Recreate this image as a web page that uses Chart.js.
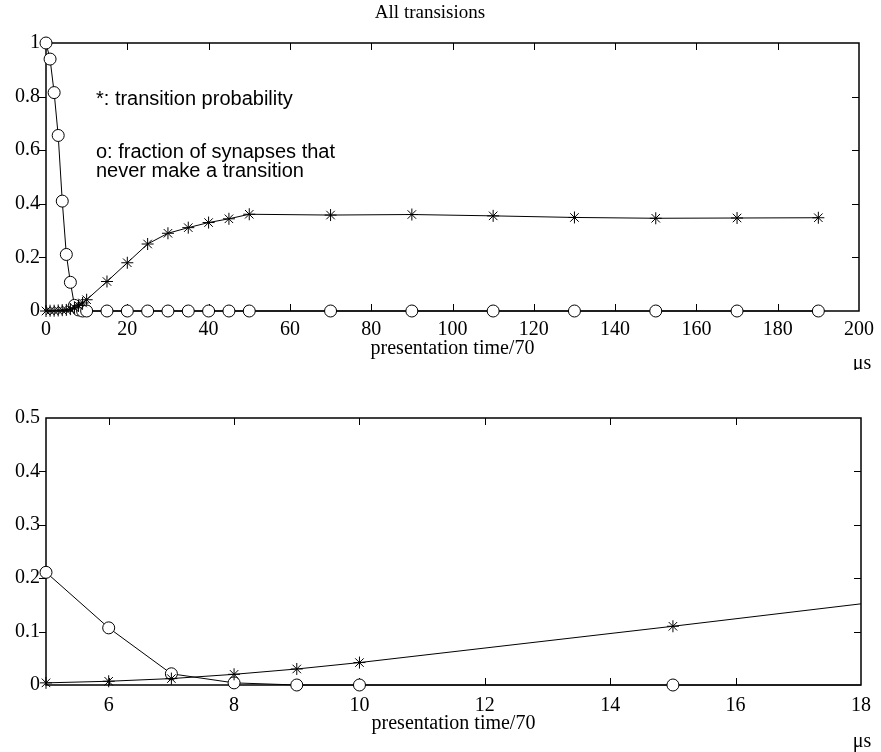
<!DOCTYPE html>
<html>
<head>
<meta charset="utf-8">
<script src="https://cdn.jsdelivr.net/npm/chart.js@4/dist/chart.umd.min.js"></script>
<style>
  html, body { margin: 0; padding: 0; background: #fff; }
  canvas { display: block; position: absolute; left: 0; }
  #c1 { top: 0; }
  #c2 { top: 370px; }
</style>
</head>
<body>
<canvas id="c1" width="881" height="370"></canvas>
<canvas id="c2" width="881" height="382"></canvas>
<script>
// ---- data ----
const presentationTime = [0,1,2,3,4,5,6,7,8,9,10,15,20,25,30,35,40,45,50,70,90,110,130,150,170,190];
const transitionProbability = [0,0.001,0.001,0.002,0.003,0.004,0.007,0.012,0.02,0.03,0.042,0.11,0.18,0.25,0.29,0.311,0.33,0.344,0.361,0.358,0.36,0.355,0.349,0.346,0.347,0.348];
const neverTransitionFraction = [1.0,0.94,0.815,0.655,0.41,0.211,0.107,0.021,0.004,0,0,0,0,0,0,0,0,0,0,0,0,0,0,0,0,0];

const topXTicks = [0,20,40,60,80,100,120,140,160,180,200];
const topYTicks = [0,0.2,0.4,0.6,0.8,1];
const bottomXTicks = [6,8,10,12,14,16,18];
const bottomYTicks = [0,0.1,0.2,0.3,0.4,0.5];

const chartTitle = 'All transisions';
const xAxisTitle = 'presentation time/70';
const unitLabel = 'μs';
const noteStar = '*: transition probability';
const noteCircle = ['o: fraction of synapses that', 'never make a transition'];

const SERIF = '"Liberation Serif", "Times New Roman", serif';
const SANS = '"Liberation Sans", Arial, sans-serif';

function pts(xs, ys) { return xs.map((x, i) => ({x: x, y: ys[i]})); }

const framePlugin = {
  id: 'frame',
  beforeDatasetsDraw(chart) {
    const {ctx, chartArea: a, scales} = chart;
    const x = scales.x, y = scales.y;
    const L = 7;
    ctx.save();
    ctx.strokeStyle = '#000';
    ctx.lineWidth = 1.5;
    ctx.strokeRect(a.left, a.top, a.right - a.left, a.bottom - a.top);
    ctx.lineWidth = 1;
    ctx.beginPath();
    x.ticks.forEach(t => {
      const px = Math.round(x.getPixelForValue(t.value)) + 0.5;
      if (px <= a.left + 1 || px >= a.right - 1) return;
      ctx.moveTo(px, a.bottom); ctx.lineTo(px, a.bottom - L);
      ctx.moveTo(px, a.top); ctx.lineTo(px, a.top + L);
    });
    y.ticks.forEach(t => {
      const py = Math.round(y.getPixelForValue(t.value)) + 0.5;
      if (py <= a.top + 1 || py >= a.bottom - 1) return;
      ctx.moveTo(a.left - L, py); ctx.lineTo(a.left, py);
      ctx.moveTo(a.right, py); ctx.lineTo(a.right - L, py);
    });
    ctx.stroke();
    ctx.restore();
  },
  afterDraw(chart, args, opts) {
    const {ctx} = chart;
    ctx.save();
    ctx.fillStyle = '#000';
    ctx.font = '20px ' + SERIF;
    ctx.textAlign = 'center';
    ctx.textBaseline = 'middle';
    ctx.fillText(unitLabel, opts.unitX, opts.unitY);
    if (opts.notes) {
      ctx.font = '20px ' + SANS;
      ctx.textAlign = 'left';
      opts.notes.forEach(n => ctx.fillText(n.text, n.x, n.y));
    }
    ctx.restore();
  }
};

function makeOptions(cfg) {
  return {
    responsive: false,
    animation: false,
    layout: { padding: { left: 0, right: cfg.padRight, top: cfg.padTop || 0, bottom: 0 } },
    plugins: {
      legend: { display: false },
      tooltip: { enabled: false },
      title: cfg.title ? {
        display: true, text: cfg.title, color: '#000',
        font: { family: SERIF, size: 19, weight: 'normal' },
        padding: { top: 2, bottom: 18.2 }
      } : { display: false },
      frame: cfg.frame
    },
    scales: {
      x: {
        type: 'linear', min: cfg.xMin, max: cfg.xMax,
        grid: { display: false, drawTicks: false },
        border: { display: false },
        afterBuildTicks: s => { s.ticks = cfg.xTicks.map(v => ({ value: v })); },
        afterFit: s => { s.height = cfg.xHeight; },
        ticks: {
          color: '#000', font: { family: SERIF, size: 20 }, padding: cfg.xPad,
          maxRotation: 0, autoSkip: false, callback: v => String(v)
        },
        title: {
          display: true, text: xAxisTitle, color: '#000',
          font: { family: SERIF, size: 20 }, padding: { top: 0, bottom: cfg.titlePadBottom }
        }
      },
      y: {
        type: 'linear', min: cfg.yMin, max: cfg.yMax,
        grid: { display: false, drawTicks: false },
        border: { display: false },
        afterBuildTicks: s => { s.ticks = cfg.yTicks.map(v => ({ value: v })); },
        afterFit: s => { s.width = 46; },
        ticks: {
          color: '#000', font: { family: SERIF, size: 20 }, padding: 6,
          callback: v => String(v)
        }
      }
    }
  };
}

function datasets(xs, star, circ, clip) {
  return [
    {
      data: pts(xs, star), borderColor: '#000', borderWidth: 1,
      pointStyle: 'star', pointRadius: 6, pointBorderColor: '#000', pointBorderWidth: 1,
      backgroundColor: 'rgba(0,0,0,0)', tension: 0, clip: clip
    },
    {
      data: pts(xs, circ), borderColor: '#000', borderWidth: 1,
      pointStyle: 'circle', pointRadius: 6, pointBorderColor: '#000', pointBorderWidth: 1,
      pointBackgroundColor: '#fff', backgroundColor: 'rgba(0,0,0,0)', tension: 0, clip: clip
    }
  ];
}

new Chart(document.getElementById('c1'), {
  type: 'line',
  data: { datasets: datasets(presentationTime, transitionProbability, neverTransitionFraction, false) },
  options: makeOptions({
    title: chartTitle, padRight: 21, xMin: 0, xMax: 200, yMin: 0, yMax: 1,
    xTicks: topXTicks, yTicks: topYTicks, xHeight: 59, xPad: 7, titlePadBottom: 9.6,
    frame: {
      unitX: 862, unitY: 364,
      notes: [
        { text: noteStar, x: 96, y: 99 },
        { text: noteCircle[0], x: 96, y: 152 },
        { text: noteCircle[1], x: 96, y: 171 }
      ]
    }
  }),
  plugins: [framePlugin]
});

// lower panel: zoom on presentation time 5..18 (points from 5 onward)
const firstIdx = presentationTime.indexOf(5);
new Chart(document.getElementById('c2'), {
  type: 'line',
  data: { datasets: datasets(presentationTime.slice(firstIdx), transitionProbability.slice(firstIdx),
                             neverTransitionFraction.slice(firstIdx), { left: 10, top: false, right: 0, bottom: 10 }) },
  options: makeOptions({
    padTop: 48, padRight: 20, xMin: 5, xMax: 18, yMin: 0, yMax: 0.5,
    xTicks: bottomXTicks, yTicks: bottomYTicks, xHeight: 67, xPad: 9, titlePadBottom: 16.6,
    frame: { unitX: 862, unitY: 372 }
  }),
  plugins: [framePlugin]
});
</script>
</body>
</html>
